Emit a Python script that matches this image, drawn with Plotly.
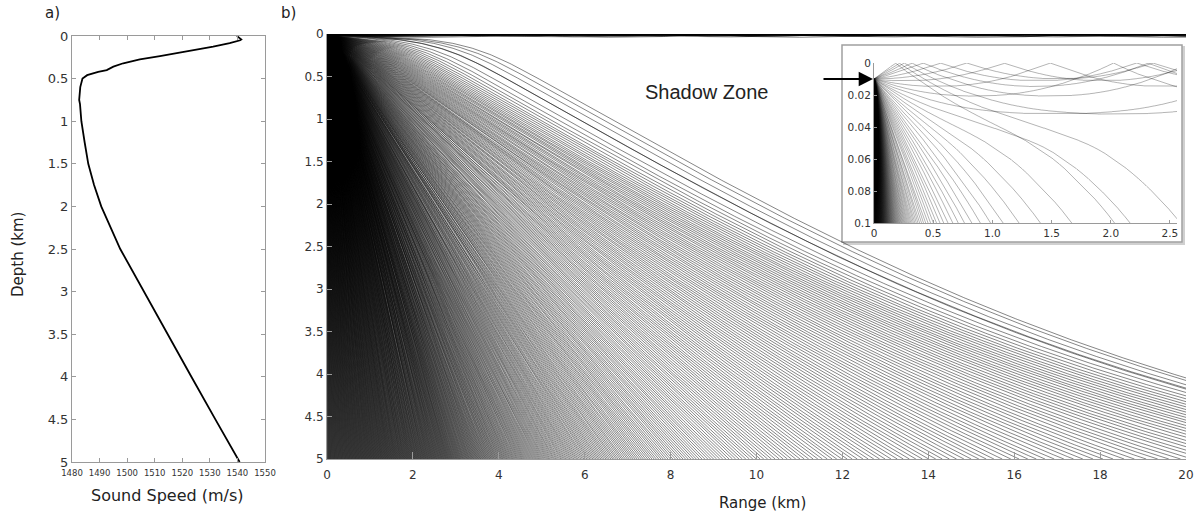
import numpy as np
import plotly.graph_objects as go

# ---------------- data ----------------
# sound-speed profile (panel a)
depth_km = [0.0, 0.01, 0.02, 0.03, 0.04, 0.05, 0.065, 0.085, 0.125, 0.155, 0.195, 0.235, 0.275,
            0.32, 0.36, 0.40, 0.42, 0.46, 0.50, 0.60, 0.70, 0.75, 0.80,
            1.00, 1.25, 1.50, 1.75, 2.00, 2.50, 3.00, 3.50, 4.00, 4.50, 5.00]
speed_ms = [1539.8, 1540.3, 1540.8, 1541.2, 1541.4, 1541.0, 1539.2, 1537.2, 1531.2, 1526.4, 1519.0, 1511.9, 1504.6,
            1498.6, 1495.0, 1492.6, 1489.5, 1485.5, 1483.8, 1483.0, 1482.9, 1482.6, 1482.9,
            1483.4, 1484.6, 1485.9, 1488.0, 1490.6, 1497.5, 1506.0, 1514.6, 1523.3, 1532.0, 1540.8]

source_depth_km = 0.01

# launch-angle grids of the two ray simulations (degrees, positive = downward)
main_angles_deg = []
_a = -2.9
while _a < 89.95:
    main_angles_deg.append(_a)
    _a += float(np.interp(_a, [10.0, 60.0], [0.26, 0.10]))
inset_angles_deg = list(np.arange(-3.0, 89.9, 0.5))

speed_ticks = [1480, 1490, 1500, 1510, 1520, 1530, 1540, 1550]
inset_xticks = [0, 0.5, 1.0, 1.5, 2.0, 2.5]
inset_xtext = ["0", "0.5", "1.0", "1.5", "2.0", "2.5"]
inset_yticks = [0, 0.02, 0.04, 0.06, 0.08, 0.1]
inset_ytext = ["0", "0.02", "0.04", "0.06", "0.08", "0.1"]

# ---------------- ray tracing through the profile ----------------
dep = np.asarray(depth_km, float)
spd = np.asarray(speed_ms, float)
grad = np.diff(spd) / np.diff(dep)


def trace_rays(angles_deg, z_stop, r_stop, ds, keep):
    th = np.radians(np.asarray(angles_deg, float))
    c0 = np.interp(source_depth_km, dep, spd)
    xi = np.cos(th) / c0
    zeta = np.sin(th) / c0
    n = th.size
    r = np.zeros(n)
    z = np.full(n, source_depth_km)
    alive = np.ones(n, bool)
    rec_r, rec_z, rec_m = [r.copy()], [z.copy()], [alive.copy()]
    end_r = np.full(n, np.nan)
    end_z = np.full(n, np.nan)
    max_steps = int(1.3 * (r_stop + z_stop) / ds) + 10
    step = 0
    while alive.any() and step < max_steps:
        k = np.clip(np.searchsorted(dep, z, side="right") - 1, 0, grad.size - 1)
        c = np.interp(z, dep, spd)
        zeta = zeta - grad[k] / c ** 2 * ds
        r = r + c * xi * ds
        z = z + c * zeta * ds
        neg = z < 0
        z[neg] = -z[neg]
        zeta[neg] = -zeta[neg]
        step += 1
        done = alive & ((z >= z_stop) | (r >= r_stop))
        end_r[done] = r[done]
        end_z[done] = z[done]
        alive = alive & ~done
        if step % keep == 0:
            rec_r.append(r.copy()); rec_z.append(z.copy()); rec_m.append(alive.copy())
    R = np.array(rec_r); Z = np.array(rec_z); M = np.array(rec_m)
    xs, ys = [], []
    for i in range(n):
        sel = M[:, i]
        xs.extend(np.round(R[sel, i], 4).tolist())
        ys.extend(np.round(Z[sel, i], 4).tolist())
        if np.isfinite(end_r[i]):
            xs.append(round(float(end_r[i]), 4)); ys.append(round(float(end_z[i]), 4))
        xs.append(None); ys.append(None)
    return xs, ys


main_r, main_z = trace_rays(main_angles_deg, 5.0, 20.0, 0.002, 20)
ins_r, ins_z = trace_rays(inset_angles_deg, 0.1, 2.56, 0.0005, 8)

# ---------------- figure ----------------
W, H = 1196, 517
def px(x):
    return x / W
def py(y):
    return 1 - y / H

FONT = "DejaVu Sans"
fig = go.Figure()
fig.add_trace(go.Scatter(x=speed_ms, y=depth_km, mode="lines",
                         line=dict(color="black", width=1.8),
                         xaxis="x", yaxis="y", showlegend=False, hoverinfo="skip"))
fig.add_trace(go.Scatter(x=main_r, y=main_z, mode="lines",
                         line=dict(color="black", width=0.48),
                         xaxis="x2", yaxis="y2", showlegend=False, hoverinfo="skip"))
fig.add_trace(go.Scatter(x=ins_r, y=ins_z, mode="lines",
                         line=dict(color="black", width=0.3),
                         xaxis="x3", yaxis="y3", showlegend=False, hoverinfo="skip"))

axcommon = dict(showgrid=False, zeroline=False, showline=True, linecolor="#9a9a9a",
                linewidth=1, tickcolor="#9a9a9a", ticks="inside", automargin=False)

fig.update_layout(
    width=W, height=H, margin=dict(l=0, r=0, t=0, b=0, autoexpand=False),
    paper_bgcolor="white", plot_bgcolor="rgba(0,0,0,0)", showlegend=False,
    font=dict(family=FONT, color="#333"),
    xaxis=dict(domain=[px(72), px(265)], range=[1480, 1550], tickvals=speed_ticks,
               ticklen=4, mirror="ticks", anchor="y", tickfont=dict(size=8.5, color="#333"),
               ticklabelstandoff=3, **axcommon),
    yaxis=dict(domain=[py(462), py(36)], range=[5, 0], dtick=0.5, ticklen=4,
               mirror="ticks", anchor="x", tickfont=dict(size=13, color="#333"), **axcommon),
    xaxis2=dict(domain=[px(327), px(1186)], range=[0, 20], dtick=2, ticklen=7,
                anchor="y2", tickfont=dict(size=12, color="#333"), ticklabelstandoff=5, **axcommon),
    yaxis2=dict(domain=[py(459), py(34)], range=[5, 0], dtick=0.5, ticklen=5,
                anchor="x2", tickfont=dict(size=12, color="#333"), **axcommon),
    xaxis3=dict(domain=[px(874), px(1177)], range=[0, 2.56], tickvals=inset_xticks,
                ticktext=inset_xtext, ticklen=3, anchor="y3",
                tickfont=dict(size=10.5, color="#333"), **axcommon),
    yaxis3=dict(domain=[py(223), py(63)], range=[0.1, 0], tickvals=inset_yticks,
                ticktext=inset_ytext, ticklen=3, anchor="x3",
                tickfont=dict(size=10.5, color="#333"), **axcommon),
)

fig.add_shape(type="rect", xref="paper", yref="paper", x0=px(844), x1=px(1184), y0=py(244), y1=py(47),
              line=dict(color="#d0d0d0", width=2), fillcolor="#d8d8d8", layer="below")
fig.add_shape(type="rect", xref="paper", yref="paper", x0=px(842), x1=px(1182), y0=py(242), y1=py(45),
              line=dict(color="#a0a0a0", width=1.5), fillcolor="white", layer="below")

ann = [
    dict(text="a)", x=px(52), y=py(13), size=15),
    dict(text="b)", x=px(288), y=py(13), size=15),
    dict(text="Depth (km)", x=px(18), y=py(255), size=15, angle=-90),
    dict(text="Sound Speed (m/s)", x=px(167), y=py(495), size=16),
    dict(text="Range (km)", x=px(762), y=py(503), size=15),
]
for a in ann:
    fig.add_annotation(text=a["text"], x=a["x"], y=a["y"], xref="paper", yref="paper",
                       showarrow=False, textangle=a.get("angle", 0),
                       font=dict(family=FONT, size=a["size"], color="#222"),
                       xanchor="center", yanchor="middle")
fig.add_annotation(text="Shadow Zone", x=px(706), y=py(92), xref="paper", yref="paper",
                   showarrow=False, font=dict(family="Liberation Sans", size=20, color="#222"),
                   xanchor="center", yanchor="middle")
fig.add_annotation(text="", x=px(873), y=py(79), xref="paper", yref="paper",
                   ax=-51, ay=0, showarrow=True, arrowhead=2, arrowsize=1.3,
                   arrowwidth=2.2, arrowcolor="black")

fig.write_html("out.html")
